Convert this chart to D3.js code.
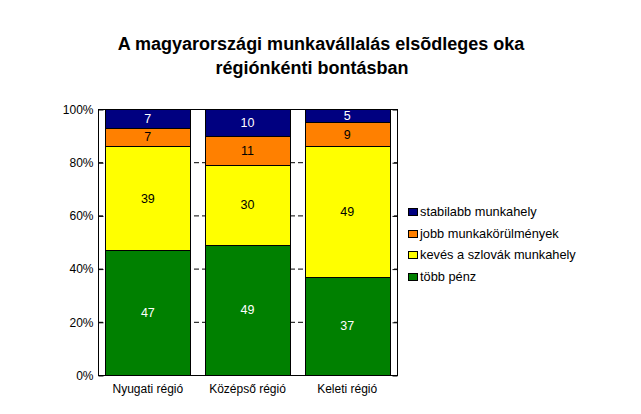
<!DOCTYPE html>
<html><head><meta charset="utf-8">
<script src="https://cdn.jsdelivr.net/npm/d3@7"></script>
<style>body{margin:0;background:#fff}svg{display:block}text{font-family:"Liberation Sans",Arial,sans-serif}</style>
</head><body><svg id="c" width="641" height="414"></svg>
<script>
const categories = ["Nyugati régió", "Középső régió", "Keleti régió"];
const seriesNames = ["több pénz", "kevés a szlovák munkahely", "jobb munkakörülmények", "stabilabb munkahely"];
const tobbPenz = [47, 49, 37];
const keves = [39, 30, 49];
const jobb = [7, 11, 9];
const stabilabb = [7, 10, 5];
const yTicks = [0, 20, 40, 60, 80, 100];
const colors = ["#008000", "#FFFF00", "#FF8000", "#000080"];
const labelColors = ["#fff", "#000", "#000", "#fff"];
const titleLines = ["A magyarországi munkavállalás elsõdleges oka", "régiónkénti bontásban"];

const svg = d3.select("#c");
const L = 98, R = 397, T = 109, B = 375;
const x = d3.scaleBand().domain(categories).range([L, R]).paddingInner(0.15).paddingOuter(0.075);
const y = d3.scaleLinear().domain([0, 100]).range([B, T]);

// title
svg.append("text").attr("x", 321).attr("y", 50).attr("text-anchor", "middle")
  .attr("font-size", 18).attr("font-weight", "bold").text(titleLines[0]);
svg.append("text").attr("x", 312).attr("y", 74).attr("text-anchor", "middle")
  .attr("font-size", 18).attr("font-weight", "bold").text(titleLines[1]);

// gridlines
svg.append("g").selectAll("line").data(yTicks.filter(d => d > 0 && d < 100)).join("line")
  .attr("x1", L).attr("x2", R).attr("y1", d => y(d) + 0.5).attr("y2", d => y(d) + 0.5)
  .attr("stroke", "#000").attr("stroke-dasharray", "5,3");

const data = categories.map((c, i) => ({cat: c, s0: tobbPenz[i], s1: keves[i], s2: jobb[i], s3: stabilabb[i]}));
const stack = d3.stack().keys(["s0", "s1", "s2", "s3"])(data);

const g = svg.append("g");
stack.forEach((layer, k) => {
  g.selectAll(null).data(layer).join("rect")
    .attr("x", d => Math.round(x(d.data.cat)) + 0.5)
    .attr("width", Math.round(x.bandwidth()))
    .attr("y", d => Math.round(y(d[1])) + 0.5)
    .attr("height", d => Math.round(y(d[0])) - Math.round(y(d[1])))
    .attr("fill", colors[k]).attr("stroke", "#000").attr("stroke-width", 1);
});
stack.forEach((layer, k) => {
  g.selectAll(null).data(layer).join("text")
    .attr("x", d => x(d.data.cat) + x.bandwidth() / 2)
    .attr("y", d => (y(d[0]) + y(d[1])) / 2 + 4.5)
    .attr("text-anchor", "middle").attr("font-size", 12.5)
    .attr("fill", labelColors[k]).text(d => d[1] - d[0]);
});

// frame
svg.append("rect").attr("x", L + 0.5).attr("y", T + 0.5).attr("width", R - L).attr("height", B - T)
  .attr("fill", "none").attr("stroke", "#000");

// y axis
const ya = svg.append("g").attr("transform", `translate(${L + 0.5},0.5)`)
  .call(d3.axisLeft(y).tickValues(yTicks).tickFormat(d => d + "%").tickSizeInner(-5).tickSizeOuter(0).tickPadding(5));
ya.select(".domain").remove();
ya.selectAll("text").attr("font-size", 12).attr("font-family", null).attr("fill", "#000");
const yr = svg.append("g").attr("transform", `translate(${R + 0.5},0.5)`)
  .call(d3.axisRight(y).tickValues(yTicks).tickFormat("").tickSizeInner(-5).tickSizeOuter(0));
yr.select(".domain").remove();

// x axis labels
const xa = svg.append("g").attr("transform", `translate(0,${B})`)
  .call(d3.axisBottom(x).tickSize(0).tickPadding(9));
xa.select(".domain").remove();
xa.selectAll("text").attr("font-size", 12).attr("font-family", null).attr("fill", "#000");

// legend
const legendOrder = [3, 2, 1, 0];
const lg = svg.append("g");
legendOrder.forEach((k, i) => {
  const ly = 208 + i * 21.5;
  lg.append("rect").attr("x", 408.5).attr("y", Math.round(ly) + 0.5).attr("width", 9).attr("height", 7)
    .attr("fill", colors[k]).attr("stroke", "#000");
  lg.append("text").attr("x", 420).attr("y", Math.round(ly) + 8).attr("font-size", 12.8).text(seriesNames[k]);
});
</script></body></html>
